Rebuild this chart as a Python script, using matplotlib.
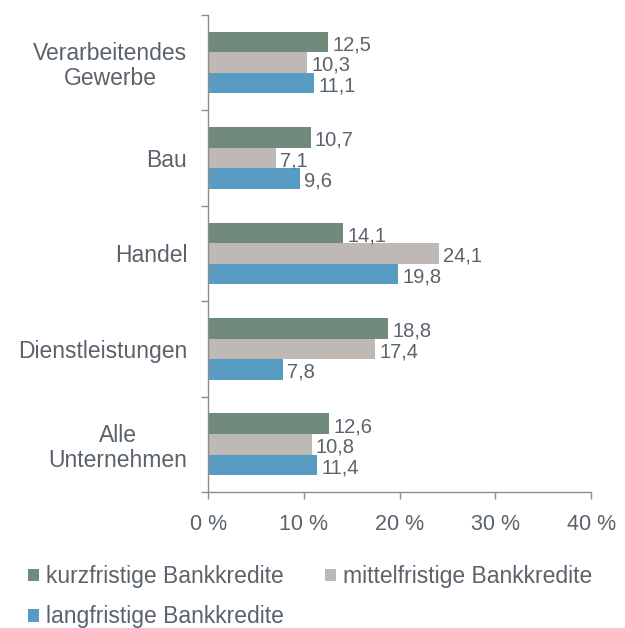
import matplotlib.pyplot as plt
import numpy as np

plt.rcParams['font.family'] = ['Liberation Sans', 'DejaVu Sans']

categories = ["Verarbeitendes\nGewerbe", "Bau", "Handel", "Dienstleistungen", "Alle\nUnternehmen"]
kurz = [12.5, 10.7, 14.1, 18.8, 12.6]
mittel = [10.3, 7.1, 24.1, 17.4, 10.8]
lang = [11.1, 9.6, 19.8, 7.8, 11.4]
series = [("kurzfristige Bankkredite", kurz, "#708a7c"),
          ("mittelfristige Bankkredite", mittel, "#bfb9b5"),
          ("langfristige Bankkredite", lang, "#589cc3")]

text_col = "#5a626b"
axis_col = "#8c8c8c"

fig = plt.figure(figsize=(6.25, 6.28), dpi=100)
ax = fig.add_axes([0.333, 0.2166, 0.6128, 0.76])

y = np.arange(len(categories))
h = 0.215
handles = []
for i, (name, vals, col) in enumerate(series):
    pos = y + (i - 1) * h
    bars = ax.barh(pos, vals, height=h, color=col, label=name)
    handles.append(bars)
    for yy, v in zip(pos, vals):
        ax.text(v + 0.45, yy + 0.03, f"{v:.1f}".replace(".", ","), va="center", ha="left",
                fontsize=14.5, color=text_col)

ax.set_xlim(0, 40)
ax.set_ylim(len(categories) - 0.5, -0.5)
ax.set_xticks([0, 10, 20, 30, 40])
ax.set_xticklabels(["0 %", "10 %", "20 %", "30 %", "40 %"])
ax.set_yticks(y)
ax.set_yticklabels(categories, multialignment="center", linespacing=1.1)
ax.set_yticks(np.arange(-0.5, len(categories)), minor=True)
ax.tick_params(axis="y", which="major", length=0, pad=15, labelsize=16.5, labelcolor=text_col)
ax.tick_params(axis="y", which="minor", length=5, color=axis_col, width=1)
ax.tick_params(axis="x", length=5, color=axis_col, width=1, labelsize=15.5, labelcolor=text_col, pad=11)

for s in ["top", "right"]:
    ax.spines[s].set_visible(False)
for s in ["left", "bottom"]:
    ax.spines[s].set_color(axis_col)
    ax.spines[s].set_linewidth(1)

order = [0, 2, 1]
fig.legend([handles[k] for k in order], [series[k][0] for k in order],
           loc="upper left", bbox_to_anchor=(0.045, 0.1), ncol=2, frameon=False,
           fontsize=16.5, labelcolor=text_col, handlelength=0.48, handleheight=0.48,
           handletextpad=0.3, columnspacing=1.8, labelspacing=0.75,
           borderaxespad=0, borderpad=0)

fig.savefig("out.png", dpi=100)
